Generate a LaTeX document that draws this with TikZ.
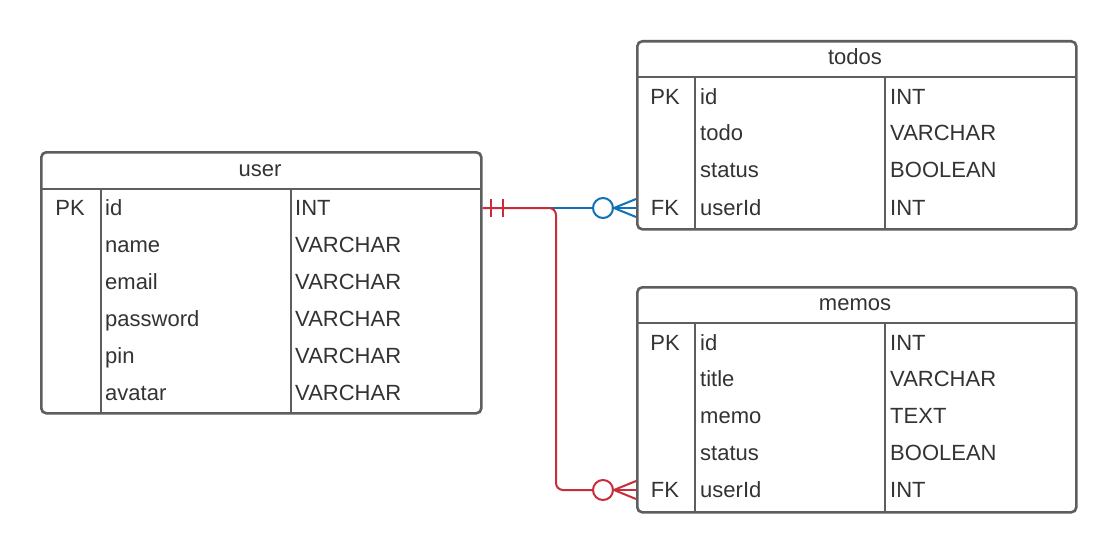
\documentclass[tikz,border=0pt]{standalone}
\usepackage{fontspec}
\usetikzlibrary{calc}
\setmainfont{Liberation Sans}
\definecolor{edge}{HTML}{5E5E5E}
\definecolor{txt}{HTML}{333333}
\definecolor{rel1}{HTML}{1071B9}
\definecolor{rel2}{HTML}{C92D39}
\begin{document}
\begin{tikzpicture}[x=1pt,y=-1pt,
  tbl/.style={draw=edge, line width=2.6pt, rounded corners=5pt, anchor=north west, inner sep=0pt, fill=white},
  sep/.style={draw=edge, line width=2.6pt},
  ttl/.style={font=\fontsize{22}{26}\selectfont, text=txt, inner sep=0pt, anchor=base},
  cell/.style={font=\fontsize{22}{26}\selectfont, text=txt, inner sep=0pt, anchor=base west},
  key/.style={font=\fontsize{22}{26}\selectfont, text=txt, inner sep=0pt, anchor=base},
  relline/.style={line width=2pt},
  ring/.style={circle, line width=2pt, minimum size=20pt, inner sep=0pt},
]
\useasboundingbox (0,0) rectangle (1115,551);
\fill[white] (0,0) rectangle (1115,551);

% ---------- user ----------
\node[tbl, minimum width=440pt, minimum height=261pt] (user) at (40,151) {};
\draw[sep] (40,189) -- (480,189);
\draw[sep] (101,189) -- (101,412);
\draw[sep] (291,189) -- (291,412);
\node[ttl] (userT) at (260,176) {user};
\node[key] (uPK) at (70,215) {PK};
\foreach \n/\t/\y [count=\i] in {id/INT/215, name/VARCHAR/252, email/VARCHAR/289, password/VARCHAR/326, pin/VARCHAR/363, avatar/VARCHAR/400}{
  \node[cell] (uN\i) at (105,\y) {\n};
  \node[cell] (uT\i) at (295,\y) {\t};
}

% ---------- todos ----------
\node[tbl, minimum width=439pt, minimum height=188pt] (todos) at (636,40) {};
\draw[sep] (636,77) -- (1075,77);
\draw[sep] (695,77) -- (695,228);
\draw[sep] (885,77) -- (885,228);
\node[ttl] (todosT) at (855,64) {todos};
\node[key] (tPK) at (665,104) {PK};
\node[key] (tFK) at (665,215) {FK};
\foreach \n/\t/\y [count=\i] in {id/INT/104, todo/VARCHAR/140, status/BOOLEAN/177, userId/INT/215}{
  \node[cell] (tN\i) at (700,\y) {\n};
  \node[cell] (tT\i) at (890,\y) {\t};
}

% ---------- memos ----------
\node[tbl, minimum width=439pt, minimum height=225pt] (memos) at (636,286) {};
\draw[sep] (636,323) -- (1075,323);
\draw[sep] (695,323) -- (695,511);
\draw[sep] (885,323) -- (885,511);
\node[ttl] (memosT) at (855,310) {memos};
\node[key] (mPK) at (665,350) {PK};
\node[key] (mFK) at (665,497) {FK};
\foreach \n/\t/\y [count=\i] in {id/INT/350, title/VARCHAR/386, memo/TEXT/423, status/BOOLEAN/460, userId/INT/497}{
  \node[cell] (mN\i) at (700,\y) {\n};
  \node[cell] (mT\i) at (890,\y) {\t};
}

% ---------- connection points ----------
\coordinate (uId) at (user.east |- 0,208);
\coordinate (tUid) at (todos.west |- 0,208);
\coordinate (mUid) at (memos.west |- 0,490);
\coordinate (bend) at (556,208);

% user -> todos (blue)
\node[ring, draw=rel1] (c1) at (603,208) {};
\draw[rel1, relline] (uId) -- (c1.west);
\draw[rel1, relline] (c1.east) -- (tUid);
\draw[rel1, relline] ($(tUid)+(0,-9)$) -- (c1.east) -- ($(tUid)+(0,9)$);

% user -> memos (red)
\node[ring, draw=rel2] (c2) at (603,490) {};
\draw[rel2, relline, rounded corners=7pt] (uId) -- (bend) -- (bend |- mUid) -- (c2.west);
\draw[rel2, relline] (c2.east) -- (mUid);
\draw[rel2, relline] ($(mUid)+(0,-9)$) -- (c2.east) -- ($(mUid)+(0,9)$);
\draw[rel2, relline] ($(uId)+(8,-9)$) -- ++(0,18);
\draw[rel2, relline] ($(uId)+(20,-9)$) -- ++(0,18);
\end{tikzpicture}
\end{document}
